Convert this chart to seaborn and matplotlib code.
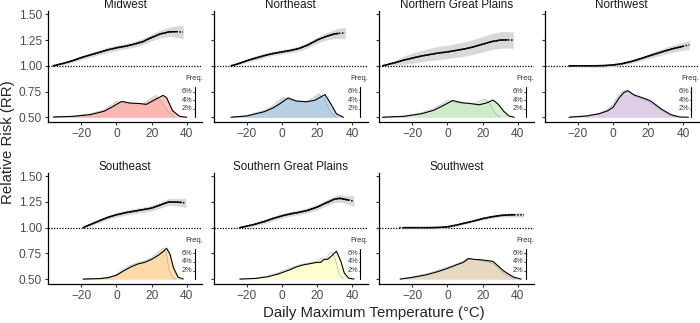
import numpy as np
import seaborn as sns
import matplotlib.pyplot as plt
from matplotlib.ticker import FormatStrFormatter

sns.set_theme(style="ticks")
plt.rcParams['font.family'] = ['Liberation Sans', 'DejaVu Sans']

# relative risk curves (temperature, RR, CI half width)
mw_t = [-36, -30, -25, -20, -15, -10, -5, 0, 5, 10, 15, 20, 25, 30, 34, 38]
mw_rr = [1.00, 1.025, 1.05, 1.08, 1.105, 1.13, 1.155, 1.175, 1.19, 1.21, 1.235, 1.275, 1.31, 1.33, 1.332, 1.328]
mw_ci = [0.0, 0.012, 0.018, 0.02, 0.022, 0.024, 0.025, 0.025, 0.026, 0.028, 0.03, 0.033, 0.038, 0.045, 0.055, 0.065]

ne_t = [-29, -25, -20, -15, -10, -5, 0, 5, 10, 15, 20, 25, 30, 32, 36]
ne_rr = [1.00, 1.02, 1.05, 1.075, 1.10, 1.12, 1.135, 1.15, 1.17, 1.205, 1.25, 1.285, 1.31, 1.315, 1.32]
ne_ci = [0.0, 0.012, 0.018, 0.02, 0.02, 0.02, 0.02, 0.022, 0.025, 0.028, 0.03, 0.035, 0.045, 0.05, 0.055]

ngp_t = [-37, -30, -25, -20, -15, -10, -5, 0, 5, 10, 15, 20, 25, 30, 34, 37.5]
ngp_rr = [1.00, 1.03, 1.055, 1.075, 1.095, 1.11, 1.125, 1.135, 1.15, 1.165, 1.185, 1.21, 1.235, 1.25, 1.252, 1.25]
ngp_ci = [0.0, 0.025, 0.04, 0.05, 0.055, 0.06, 0.065, 0.065, 0.068, 0.07, 0.072, 0.075, 0.078, 0.08, 0.08, 0.08]

nw_t = [-25, -20, -15, -10, -5, 0, 5, 10, 15, 20, 25, 30, 35, 40, 43.5]
nw_rr = [1.00, 1.00, 1.00, 1.00, 1.002, 1.008, 1.02, 1.04, 1.065, 1.093, 1.12, 1.147, 1.17, 1.19, 1.205]
nw_ci = [0.0, 0.008, 0.012, 0.015, 0.015, 0.015, 0.016, 0.018, 0.02, 0.024, 0.028, 0.032, 0.036, 0.04, 0.045]

se_t = [-19, -15, -10, -5, 0, 5, 10, 15, 20, 25, 28, 30, 35, 37, 39.5]
se_rr = [1.00, 1.03, 1.065, 1.10, 1.125, 1.145, 1.16, 1.175, 1.19, 1.22, 1.24, 1.25, 1.248, 1.245, 1.24]
se_ci = [0.0, 0.012, 0.018, 0.02, 0.022, 0.024, 0.025, 0.026, 0.028, 0.03, 0.032, 0.034, 0.038, 0.04, 0.045]

sgp_t = [-24, -20, -15, -10, -5, 0, 5, 10, 15, 20, 25, 30, 33, 36, 38, 41]
sgp_rr = [1.00, 1.015, 1.035, 1.06, 1.09, 1.115, 1.135, 1.15, 1.17, 1.20, 1.24, 1.278, 1.285, 1.275, 1.268, 1.258]
sgp_ci = [0.0, 0.012, 0.016, 0.02, 0.022, 0.022, 0.022, 0.024, 0.026, 0.028, 0.03, 0.033, 0.036, 0.04, 0.045, 0.05]

sw_t = [-27.5, -25, -20, -15, -10, -5, 0, 5, 10, 15, 20, 25, 30, 35, 38, 43.5]
sw_rr = [1.00, 1.00, 1.00, 1.00, 1.00, 1.002, 1.008, 1.025, 1.045, 1.065, 1.088, 1.105, 1.118, 1.124, 1.125, 1.125]
sw_ci = [0.0, 0.005, 0.008, 0.01, 0.01, 0.01, 0.01, 0.011, 0.012, 0.013, 0.014, 0.015, 0.016, 0.018, 0.02, 0.022]

# temperature frequency (%), A = black outline, B = grey outline
mw_ta = [-36, -25, -15, -7, -2, 3, 8, 13, 17, 21, 26.5, 28.5, 32, 36, 40]
mw_da = [0.05, 0.2, 0.6, 1.4, 2.5, 3.7, 3.3, 3.2, 3.0, 3.9, 5.1, 4.6, 1.5, 0.2, 0.0]
mw_tb = [-36, -25, -15, -7, -3, 0, 5, 10, 15, 19, 22.5, 25, 29, 33]
mw_db = [0.05, 0.25, 0.8, 1.7, 2.8, 3.7, 3.3, 3.2, 3.1, 4.2, 5.1, 4.0, 1.5, 0.0]

ne_ta = [-29, -20, -10, -5, -1, 3.5, 8, 14, 19, 24.5, 28, 31, 35]
ne_da = [0, 0.3, 1.3, 2.2, 3.2, 4.5, 3.8, 3.6, 4.0, 5.3, 3.0, 0.8, 0]
ne_tb = [-29, -20, -10, -5, -2, 1, 5, 10, 15, 18, 21, 24, 27.5, 31]
ne_db = [0, 0.4, 1.6, 2.7, 3.8, 4.6, 4.0, 3.6, 3.8, 4.6, 5.5, 4.3, 1.4, 0]

ngp_ta = [-37, -25, -15, -8, -3, 3, 8, 13, 18, 22, 26, 29, 32, 35, 38]
ngp_da = [0, 0.2, 0.8, 1.6, 2.6, 3.9, 3.4, 3.2, 2.9, 3.3, 4.0, 3.0, 1.4, 0.3, 0]
ngp_tb = [-37, -25, -15, -8, -3, 0.5, 5, 10, 15, 19, 21.5, 24, 27, 30]
ngp_db = [0, 0.25, 1.0, 2.0, 3.1, 3.9, 3.5, 3.2, 3.1, 3.9, 4.3, 3.2, 1.0, 0]

nw_ta = [-25, -15, -8, -3, 0, 3.5, 6, 8.5, 12, 17, 21, 24, 28, 33, 38, 43]
nw_da = [0, 0.3, 0.8, 1.5, 2.3, 4.5, 5.7, 6.2, 5.2, 4.5, 3.9, 3.0, 1.8, 0.6, 0.05, 0]
nw_tb = [-25, -15, -8, -3, 0, 3, 6.5, 9, 12, 16, 20, 24, 28, 32, 36]
nw_db = [0, 0.35, 0.9, 1.8, 3.0, 5.0, 6.3, 5.9, 5.0, 4.4, 3.7, 2.6, 1.5, 0.5, 0]

se_ta = [-19, -10, -5, 0, 4, 8, 12, 16, 20, 24, 26.5, 28.5, 30.5, 32.5, 35, 38]
se_da = [0, 0.1, 0.3, 0.9, 1.9, 2.8, 3.5, 3.9, 4.6, 5.6, 6.4, 7.2, 5.8, 2.6, 0.5, 0]
se_tb = [-19, -10, -5, 0, 4, 8, 12, 16, 20, 23, 25, 26.7, 28.5, 30, 32, 34]
se_db = [0, 0.15, 0.4, 1.1, 2.3, 3.2, 3.8, 4.2, 5.0, 6.0, 6.7, 7.2, 5.8, 2.0, 0.4, 0]

sgp_ta = [-24, -15, -8, -2, 4, 8, 12, 16, 20, 22, 24, 26, 28, 31, 33.5, 35.5, 38, 41]
sgp_da = [0, 0.15, 0.55, 1.2, 2.1, 2.8, 3.3, 3.6, 3.9, 3.9, 4.6, 4.6, 5.3, 6.5, 4.2, 1.4, 0.2, 0]
sgp_tb = [-24, -15, -8, -2, 4, 8, 12, 16, 20, 22.5, 24.5, 26.5, 28.5, 30.5, 32.5, 35]
sgp_db = [0, 0.2, 0.7, 1.5, 2.5, 3.1, 3.5, 3.8, 4.2, 4.9, 4.5, 5.6, 6.4, 4.5, 1.2, 0]

sw_ta = [-27, -20, -12, -5, 0, 5, 9, 12, 15, 19, 23, 26, 29, 32, 35, 38, 42]
sw_da = [0, 0.4, 1.0, 1.8, 2.5, 3.3, 3.9, 4.8, 4.6, 4.5, 4.3, 4.1, 3.0, 1.9, 1.1, 0.4, 0]
sw_tb = [-27, -20, -12, -5, 0, 5, 9, 11.5, 15, 19, 23, 26, 29, 32, 35, 39]
sw_db = [0, 0.5, 1.2, 2.1, 2.8, 3.5, 4.2, 4.9, 4.6, 4.3, 4.0, 3.6, 2.5, 1.4, 0.6, 0]

names = ['Midwest', 'Northeast', 'Northern Great Plains', 'Northwest',
         'Southeast', 'Southern Great Plains', 'Southwest']
colors = sns.color_palette('Pastel1', 7)
# range of temperatures drawn with a solid line (rest is dotted)
solid = [(-36, 34), (-29, 32), (-37, 34), (-25, 40), (-19, 37), (-24, 38), (-25, 38)]

rr_data = [(mw_t, mw_rr, mw_ci), (ne_t, ne_rr, ne_ci), (ngp_t, ngp_rr, ngp_ci),
           (nw_t, nw_rr, nw_ci), (se_t, se_rr, se_ci), (sgp_t, sgp_rr, sgp_ci),
           (sw_t, sw_rr, sw_ci)]
dens_data = [(mw_ta, mw_da, mw_tb, mw_db), (ne_ta, ne_da, ne_tb, ne_db),
             (ngp_ta, ngp_da, ngp_tb, ngp_db), (nw_ta, nw_da, nw_tb, nw_db),
             (se_ta, se_da, se_tb, se_db), (sgp_ta, sgp_da, sgp_tb, sgp_db),
             (sw_ta, sw_da, sw_tb, sw_db)]

# 6% frequency drawn as 0.25 on the RR axis, starting from 0.5
base = 0.5
scale = 0.25 / 6
freq_x = 44.6

fig, axes = plt.subplots(2, 4, figsize=(7, 3.23), dpi=100)
plt.subplots_adjust(left=0.0686, right=0.9986, bottom=0.1207, top=0.965,
                    wspace=0.0714, hspace=0.46)
axes = axes.flatten()

for i, ax in enumerate(axes):
    if i >= len(names):
        ax.axis('off')
        continue
    t, rr, ci = [np.array(v, dtype=float) for v in rr_data[i]]
    ta, da, tb, db = [np.array(v, dtype=float) for v in dens_data[i]]

    ax.axhline(1.0, color='black', linestyle=(0, (1, 1.2)), lw=0.9, zorder=1)

    # frequency densities
    ax.fill_between(tb, base, base + db * scale, color=colors[i], alpha=0.8, lw=0, zorder=2)
    ax.fill_between(ta, base, base + da * scale, color=colors[i], alpha=0.8, lw=0, zorder=2)
    ax.plot(tb, base + db * scale, color='#9a9a9a', lw=0.5, alpha=0.7, zorder=3)
    ax.plot(ta, base + da * scale, color='black', lw=0.8, zorder=3)

    # RR curve with CI
    ax.fill_between(t, rr - ci, rr + ci, color='#d9d9d9', lw=0, zorder=2)
    sns.lineplot(x=t, y=rr, ax=ax, color='black', lw=1.1, linestyle=(0, (1, 1)), zorder=4)
    lo, hi = solid[i]
    m = (t >= lo) & (t <= hi)
    sns.lineplot(x=t[m], y=rr[m], ax=ax, color='black', lw=1.1, zorder=5)

    # frequency scale
    ax.plot([freq_x, freq_x], [base, base + 7 * scale], color='black', lw=0.8)
    for p in (2, 4, 6):
        y = base + p * scale
        ax.plot([freq_x - 1.0, freq_x], [y, y], color='black', lw=0.5)
        ax.text(freq_x - 1.2, y, f'{p}%', ha='right', va='center', size=5.3, color='#333333')
    ax.text(freq_x - 0.5, base + 9.0 * scale, 'Freq.', ha='center', va='center',
            size=5.5, color='#333333')

    ax.set_xlim(-39, 49)
    ax.set_ylim(0.452, 1.53)
    ax.set_xticks([-20, 0, 20, 40])
    ax.set_yticks([0.5, 0.75, 1.0, 1.25, 1.5])
    ax.yaxis.set_major_formatter(FormatStrFormatter('%.2f'))
    ax.set_xlabel('')
    ax.set_ylabel('')
    ax.set_title(names[i], fontsize=8.4, pad=0, color='#1a1a1a')
    ax.tick_params(axis='both', labelsize=8.6, labelcolor='#4d4d4d', length=2.5,
                   width=0.8, color='#333333', pad=2)
    if i % 4 != 0:
        ax.tick_params(axis='y', labelleft=False)
    for s in ['top', 'right']:
        ax.spines[s].set_visible(False)
    for s in ['left', 'bottom']:
        ax.spines[s].set_color('black')
        ax.spines[s].set_linewidth(0.9)

fig.text(0.5336, 0.031, 'Daily Maximum Temperature (\u00b0C)', ha='center', va='center', size=10.8)
fig.text(0.012, 0.56, 'Relative Risk (RR)', ha='center', va='center', rotation=90, size=10.8)

plt.savefig('out.png', dpi=100)
